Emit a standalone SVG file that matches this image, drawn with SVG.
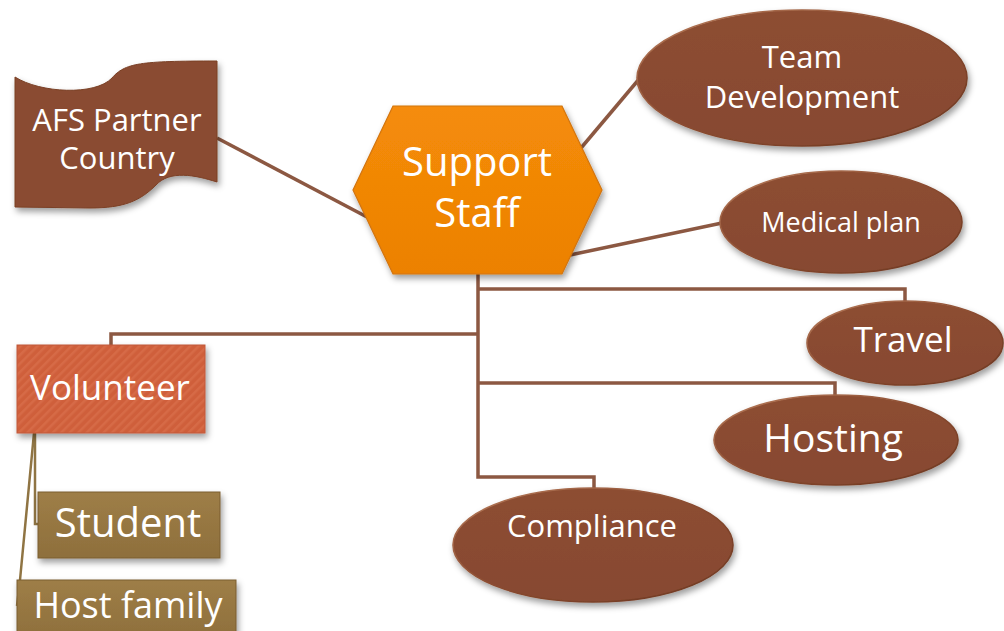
<svg xmlns="http://www.w3.org/2000/svg" width="1004" height="631" viewBox="0 0 1004 631">
  <defs>
    <style>
      .lbl { font-family: "Open Sans", "Noto Sans", "Liberation Sans", sans-serif; fill: #ffffff; text-anchor: middle; }
      .wire { fill: none; stroke: #8C5842; stroke-width: 3.5; stroke-linejoin: miter; }
      .wire-tan { fill: none; stroke: #8F7443; stroke-width: 2.5; }
      .oval { fill: url(#ovalFill); stroke: url(#ovalRim); stroke-width: 1.6; filter: url(#shadow); }
      .tan-box { fill: url(#tanFill); stroke: #7A5F30; stroke-width: 1; filter: url(#shadow); }
    </style>
    <filter id="shadow" x="-20%" y="-20%" width="140%" height="150%">
      <feDropShadow dx="2" dy="4" stdDeviation="3" flood-color="#000" flood-opacity="0.38"/>
    </filter>
    <linearGradient id="ovalFill" x1="0" y1="0" x2="0" y2="1">
      <stop offset="0" stop-color="#8D4E32"/>
      <stop offset="1" stop-color="#874830"/>
    </linearGradient>
    <linearGradient id="ovalRim" x1="0" y1="0" x2="1" y2="1">
      <stop offset="0" stop-color="#B87C5B"/>
      <stop offset="0.5" stop-color="#8A4B30"/>
      <stop offset="1" stop-color="#6A3620"/>
    </linearGradient>
    <linearGradient id="hexFill" x1="0" y1="0" x2="0" y2="1">
      <stop offset="0" stop-color="#F58C08"/>
      <stop offset="1" stop-color="#EC8103"/>
    </linearGradient>
    <linearGradient id="tanFill" x1="0" y1="0" x2="0" y2="1">
      <stop offset="0" stop-color="#9E7E47"/>
      <stop offset="1" stop-color="#8E6F3C"/>
    </linearGradient>
    <pattern id="stripes" width="6" height="6" patternUnits="userSpaceOnUse" patternTransform="rotate(45)">
      <rect width="6" height="6" fill="#CF5F3B"/>
      <rect width="2.5" height="6" fill="#D66B46"/>
    </pattern>
  </defs>

  <!-- connectors -->
  <g id="connectors">
    <line class="wire" x1="217" y1="138" x2="367" y2="217"/>
    <line class="wire" x1="581" y1="148" x2="640" y2="78"/>
    <line class="wire" x1="570" y1="255" x2="722" y2="223"/>
    <polyline class="wire" points="478,274 478,477 594,477 594,490"/>
    <polyline class="wire" points="478,289 905,289 905,302"/>
    <polyline class="wire" points="478,383 835,383 835,397"/>
    <polyline class="wire" points="478,334 111,334 111,346"/>
    <polyline class="wire-tan" points="35,433 35,524 39,524"/>
    <polyline class="wire-tan" points="34,433 20,580 17,606"/>
  </g>

  <!-- AFS Partner Country -->
  <g id="afs-partner-country">
    <path d="M15,77 C40,93 95,96 112,78 C125,63 140,61 217,61 L217,182 C195,175 170,170 156,185 C140,201 124,208 90,208 L15,207 Z"
          fill="#8A4B30" stroke="#7A4027" stroke-width="1" filter="url(#shadow)"/>
    <text class="lbl" x="117" y="131" font-size="31">AFS Partner</text>
    <text class="lbl" x="117" y="169" font-size="31">Country</text>
  </g>

  <!-- Support Staff -->
  <g id="support-staff">
    <polygon points="393,106 562,106 602,190 562,274 393,274 353,190"
             fill="url(#hexFill)" stroke="#D2740C" stroke-width="1.2" filter="url(#shadow)"/>
    <text class="lbl" x="477" y="176" font-size="40">Support</text>
    <text class="lbl" x="477" y="227" font-size="40">Staff</text>
  </g>

  <!-- Team Development -->
  <g id="team-development">
    <ellipse class="oval" cx="802" cy="78" rx="165" ry="68"/>
    <text class="lbl" x="802" y="68" font-size="31">Team</text>
    <text class="lbl" x="802" y="108" font-size="31">Development</text>
  </g>

  <!-- Medical plan -->
  <g id="medical-plan">
    <ellipse class="oval" cx="841" cy="222" rx="121" ry="51"/>
    <text class="lbl" x="841" y="232" font-size="27">Medical plan</text>
  </g>

  <!-- Travel -->
  <g id="travel">
    <ellipse class="oval" cx="905" cy="343" rx="98" ry="42"/>
    <text class="lbl" x="903" y="352" font-size="35">Travel</text>
  </g>

  <!-- Hosting -->
  <g id="hosting">
    <ellipse class="oval" cx="836" cy="440" rx="122" ry="45"/>
    <text class="lbl" x="833" y="452" font-size="39">Hosting</text>
  </g>

  <!-- Compliance -->
  <g id="compliance">
    <ellipse class="oval" cx="593" cy="545" rx="140" ry="57"/>
    <text class="lbl" x="592" y="537" font-size="31">Compliance</text>
  </g>

  <!-- Volunteer -->
  <g id="volunteer">
    <rect x="17" y="345" width="188" height="88" fill="url(#stripes)" stroke="#C0583A" stroke-width="1" filter="url(#shadow)"/>
    <text class="lbl" x="110" y="400" font-size="35">Volunteer</text>
  </g>

  <!-- Student -->
  <g id="student">
    <rect class="tan-box" x="38" y="492" width="182" height="66"/>
    <text class="lbl" x="128" y="537" font-size="40">Student</text>
  </g>

  <!-- Host family -->
  <g id="host-family">
    <rect class="tan-box" x="17" y="580" width="219" height="60"/>
    <text class="lbl" x="128" y="618" font-size="36">Host family</text>
  </g>
</svg>
